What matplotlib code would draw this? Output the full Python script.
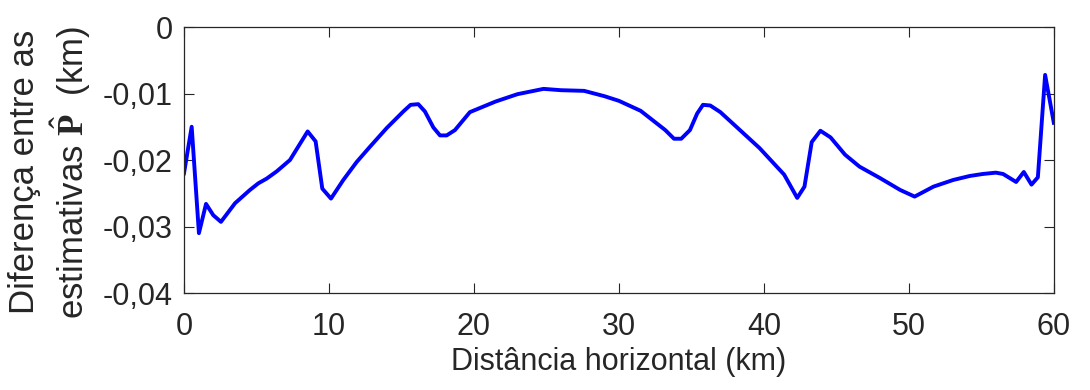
import matplotlib.pyplot as plt
import matplotlib.ticker as mticker

# values
dist_km = [0.0, 0.53, 1.03, 1.52, 2.02, 2.55, 3.52, 4.55, 5.13, 5.7, 6.4, 7.31,
           8.53, 9.08, 9.54, 10.14, 10.99, 11.91, 12.83, 13.98, 15.13, 15.63,
           16.16, 16.62, 17.2, 17.66, 18.12, 18.69, 19.72, 21.5, 23.0, 24.8,
           26.0, 27.6, 29.0, 30.0, 31.5, 33.2, 33.8, 34.3, 34.9, 35.4, 35.8,
           36.3, 37.0, 38.3, 39.7, 41.4, 42.3, 42.8, 43.3, 43.9, 44.6, 45.6,
           46.6, 48.0, 49.4, 50.4, 51.7, 53.06, 54.2, 55.1, 56.0, 56.5, 57.4,
           57.93, 58.46, 58.9, 59.4, 60.0]
diff_km = [-0.0220, -0.0150, -0.0310, -0.0266, -0.0283, -0.0293, -0.0265,
           -0.0245, -0.0235, -0.0228, -0.0217, -0.0200, -0.0157, -0.0172,
           -0.0243, -0.0258, -0.0230, -0.0203, -0.0180, -0.0152, -0.0127,
           -0.0117, -0.0116, -0.0127, -0.0151, -0.0163, -0.0163, -0.0155,
           -0.0128, -0.0112, -0.0101, -0.0093, -0.0095, -0.0096, -0.0104,
           -0.0111, -0.0126, -0.0155, -0.0168, -0.0168, -0.0155, -0.0130,
           -0.0117, -0.0118, -0.0128, -0.0154, -0.0182, -0.0222, -0.0257,
           -0.0240, -0.0173, -0.0156, -0.0166, -0.0192, -0.0210, -0.0227,
           -0.0245, -0.0255, -0.0240, -0.0230, -0.0224, -0.0221, -0.0219,
           -0.0221, -0.0233, -0.0218, -0.0237, -0.0226, -0.0072, -0.0144]

x_ticks = [0, 10, 20, 30, 40, 50, 60]
y_ticks = [-0.04, -0.03, -0.02, -0.01, 0.0]

plt.rcParams['font.family'] = ['Liberation Sans', 'DejaVu Sans']
plt.rcParams['mathtext.fontset'] = 'custom'
plt.rcParams['mathtext.rm'] = 'Liberation Serif'
plt.rcParams['mathtext.bf'] = 'Liberation Serif:bold'

fig = plt.figure(figsize=(10.9, 3.9), dpi=100)
ax = fig.add_axes([0.1688, 0.2487, 0.798, 0.682])

ax.plot(dist_km, diff_km, color='#0000ff', linewidth=2.8)

ax.set_xlim(0, 60)
ax.set_ylim(-0.04, 0)
ax.set_xticks(x_ticks)
ax.set_yticks(y_ticks)
ax.yaxis.set_major_formatter(mticker.FuncFormatter(
    lambda v, p: '0' if v == 0 else f'{v:.2f}'.replace('.', ',')))

ax.tick_params(direction='in', length=7, width=0.8, top=True, right=True,
               labelsize=22, colors='#262626', pad=8)
ax.tick_params(axis='x', pad=14)
for s in ax.spines.values():
    s.set_color('#262626')
    s.set_linewidth(0.9)

ax.set_xlabel('Distância horizontal (km)', fontsize=22, labelpad=3,
              color='#262626')
ax.set_ylabel('Diferença entre as\nestimativas $\\hat{\\mathbf{P}}$  (km)',
              fontsize=25, color='#262626')
ax.yaxis.set_label_coords(-0.105, 0.455)

fig.savefig('out.png', dpi=100)
